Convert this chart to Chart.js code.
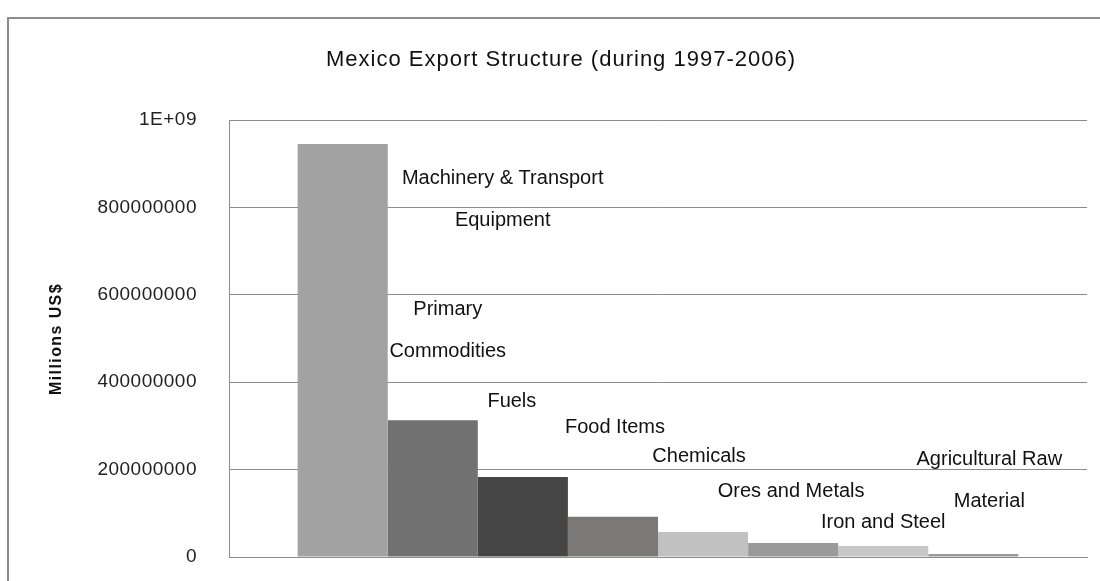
<!DOCTYPE html>
<html lang="en">

<head>
    <title>Mexico Export Structure</title>
    <meta charset="utf-8">
    <meta name="viewport" content="width=device-width, initial-scale=1.0">
    <style>
        body { margin: 0; background: #ffffff; }
        #export-canvas { display: block; }
    </style>
</head>

<body>
    <canvas id="export-canvas" width="1100" height="581"></canvas>

    <script src="https://cdn.jsdelivr.net/npm/chart.js"></script>
    <script>
        // export groups, millions US$ (1997-2006)
        const categories = ['Machinery & Transport Equipment', 'Primary Commodities', 'Fuels', 'Food Items',
            'Chemicals', 'Ores and Metals', 'Iron and Steel', 'Agricultural Raw Material'];
        const exportValues = [945000000, 313000000, 183000000, 92000000, 57000000, 32000000, 25000000, 7000000];
        const yTickLabels = ['0', '200000000', '400000000', '600000000', '800000000', '1E+09'];

        // text next to each bar, split the way it wraps
        const labelLines = [
            ['Machinery & Transport', 'Equipment'],
            ['Primary', 'Commodities'],
            ['Fuels'],
            ['Food Items'],
            ['Chemicals'],
            ['Ores and Metals'],
            ['Iron and Steel'],
            ['Agricultural Raw', 'Material']
        ];
        // where that text sits: px from bar centre, and height on the value axis per line
        const labelSpots = [
            { dx: 160, at: [867000000, 769000000] },
            { dx: 15, at: [567000000, 471000000] },
            { dx: -11, at: [355000000] },
            { dx: 2, at: [297000000] },
            { dx: -4, at: [231000000] },
            { dx: -2, at: [149000000] },
            { dx: 0, at: [78000000] },
            { dx: 16, at: [224000000, 126000000] }
        ];
        const barColors = ['#a2a2a2', '#717171', '#464646', '#7b7878', '#c1c1c1', '#9a9a9a', '#c7c7c7', '#9a9a9a'];

        const fontFamily = "'Liberation Sans', Arial, sans-serif";
        const lineColor = '#8c8c8c';

        const textPlugin = {
            id: 'exportText',
            beforeDraw(chart) {
                const ctx = chart.ctx;
                ctx.letterSpacing = '0.5px';
                // outer frame
                ctx.save();
                ctx.strokeStyle = lineColor;
                ctx.lineWidth = 2;
                ctx.strokeRect(8, 18, 1200, 700);
                ctx.restore();
            },
            afterDraw(chart) {
                const ctx = chart.ctx;
                const yScale = chart.scales.y;
                ctx.save();
                ctx.fillStyle = '#111111';
                ctx.textBaseline = 'middle';
                ctx.textAlign = 'center';

                ctx.font = '22px ' + fontFamily;
                ctx.letterSpacing = '1px';
                ctx.fillText('Mexico Export Structure (during 1997-2006)', 561, 60);

                ctx.save();
                ctx.translate(57, 339);
                ctx.rotate(-Math.PI / 2);
                ctx.font = 'bold 16px ' + fontFamily;
                ctx.letterSpacing = '1.4px';
                ctx.fillText('Millions US$', 0, 0);
                ctx.restore();

                ctx.font = '20px ' + fontFamily;
                ctx.letterSpacing = '0px';
                labelLines.forEach(function (lines, i) {
                    const bar = chart.getDatasetMeta(i).data[0];
                    const spot = labelSpots[i];
                    lines.forEach(function (text, j) {
                        ctx.fillText(text, bar.x + spot.dx, yScale.getPixelForValue(spot.at[j]));
                    });
                });
                ctx.restore();
            }
        };

        const datasets = categories.map(function (name, i) {
            return {
                label: name,
                data: [exportValues[i]],
                backgroundColor: barColors[i],
                borderWidth: 0,
                barPercentage: 1,
                categoryPercentage: 0.84
            };
        });

        const config = {
            type: 'bar',
            data: {
                labels: [''],
                datasets: datasets
            },
            options: {
                responsive: false,
                animation: false,
                layout: {
                    padding: { top: 120, right: 13, bottom: 24, left: 0 }
                },
                scales: {
                    x: {
                        ticks: { display: false },
                        grid: { display: false, drawTicks: false },
                        border: { display: true, color: lineColor, width: 1 },
                        afterFit: function (scale) { scale.height = 0; }
                    },
                    y: {
                        min: 0,
                        max: 1000000000,
                        afterFit: function (scale) {
                            scale.width = 229;
                            scale.paddingTop = 0;
                            scale.paddingBottom = 0;
                        },
                        ticks: {
                            stepSize: 200000000,
                            padding: 32,
                            color: '#222222',
                            font: { family: fontFamily, size: 19 },
                            callback: function (value, index) { return yTickLabels[index]; }
                        },
                        grid: { color: lineColor, drawTicks: false, lineWidth: 1 },
                        border: { display: true, color: lineColor, width: 1 }
                    }
                },
                plugins: {
                    legend: { display: false },
                    title: { display: false },
                    tooltip: { enabled: false }
                }
            },
            plugins: [textPlugin]
        };

        const exportChart = new Chart(document.getElementById('export-canvas').getContext('2d'), config);
    </script>
</body>

</html>
